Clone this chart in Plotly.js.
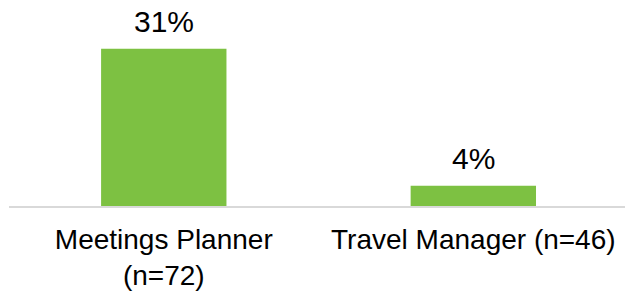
<!DOCTYPE html>
<html>
<head>
<meta charset="utf-8">
<script src="https://cdn.plot.ly/plotly-3.0.1.min.js"></script>
<style>html,body{margin:0;padding:0;background:#fff;}#chart{width:625px;height:294px;}</style>
</head>
<body>
<div id="chart"></div>
<script>
const categories = ["Meetings Planner", "Travel Manager"];
const tickLabels = ["Meetings Planner<br>(n=72)", "Travel Manager (n=46)"];
const values = [31, 4];
const valueLabels = ["31%", "4%"];

const trace = {
  type: "bar",
  x: categories,
  y: values,
  width: 0.405,
  marker: {color: "#7dc142"},
  hoverinfo: "none"
};

const annotations = categories.map((c, i) => ({
  x: c, y: values[i], xref: "x", yref: "y",
  text: valueLabels[i], showarrow: false,
  yanchor: "bottom", yshift: 9,
  font: {family: "Liberation Sans, Arial, sans-serif", size: 30, color: "#000"}
}));

const layout = {
  width: 625, height: 294,
  margin: {l: 9, r: 0, t: 4, b: 88},
  paper_bgcolor: "#fff", plot_bgcolor: "#fff",
  showlegend: false,
  font: {family: "Liberation Sans, Arial, sans-serif", color: "#000"},
  xaxis: {
    range: [-0.5, 1.49],
    tickmode: "array", tickvals: categories, ticktext: tickLabels,
    tickfont: {size: 28, color: "#000"},
    showline: true, linecolor: "#d9d9d9", linewidth: 2,
    ticks: "", showgrid: false, zeroline: false,
    ticklabelstandoff: 7
  },
  yaxis: {range: [0, 39.8], visible: false, showgrid: false, zeroline: false},
  annotations: annotations
};

Plotly.newPlot("chart", [trace], layout, {displayModeBar: false, staticPlot: true});
</script>
</body>
</html>
